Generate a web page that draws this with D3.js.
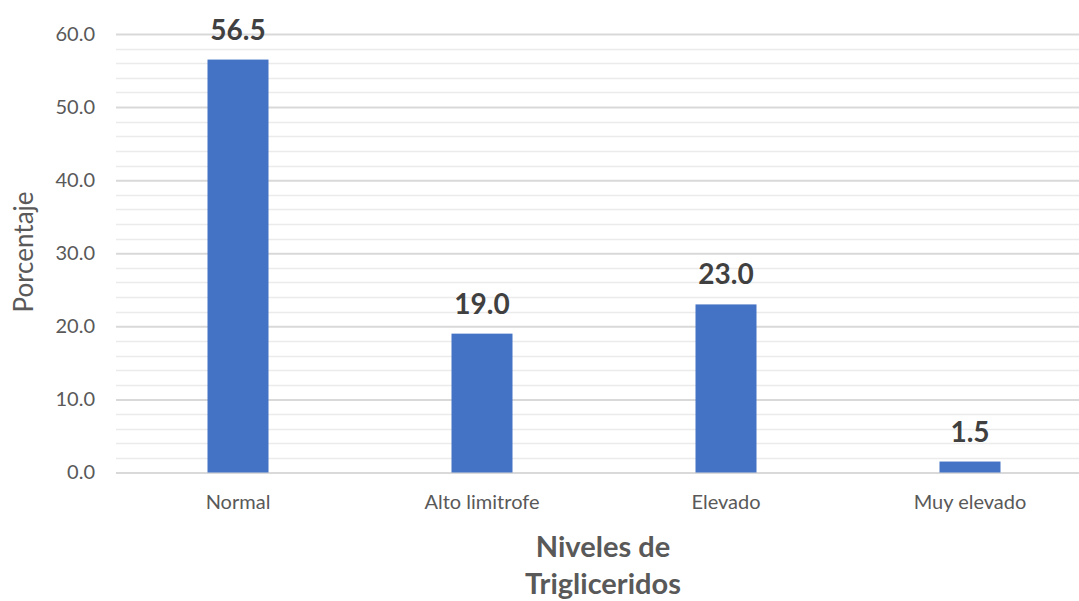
<!DOCTYPE html>
<html>
<head>
<meta charset="utf-8">
<script src="https://cdn.jsdelivr.net/npm/d3@7/dist/d3.min.js"></script>
<style>
  html, body { margin: 0; padding: 0; background: #fff; overflow: hidden; }
  svg { display: block; }
  text { font-family: Lato, "Open Sans", sans-serif; }
</style>
</head>
<body>
<svg id="chart" width="1079" height="601"></svg>
<script>
// Triglyceride level categories and their percentages
const categories = ["Normal", "Alto limitrofe", "Elevado", "Muy elevado"];
const values = [56.5, 19.0, 23.0, 1.5];
const majorTicks = [0, 10, 20, 30, 40, 50, 60];
const minorTicks = [2, 4, 6, 8, 12, 14, 16, 18, 22, 24, 26, 28, 32, 34, 36, 38, 42, 44, 46, 48, 52, 54, 56, 58];
const yTitle = "Porcentaje";
const xTitleLines = ["Niveles de", "Trigliceridos"];

const svg = d3.select("#chart");
const plotLeft = 116, plotRight = 1092, plotTop = 34, plotBottom = 472.5;

const x = d3.scaleBand().domain(categories).range([plotLeft, plotRight]).paddingInner(0.75).paddingOuter(0.375);
const y = d3.scaleLinear().domain([0, 60]).range([plotBottom, plotTop]);

// minor gridlines
svg.append("g").selectAll("line").data(minorTicks).join("line")
  .attr("x1", plotLeft).attr("x2", plotRight)
  .attr("y1", d => Math.round(y(d)) + 0.5).attr("y2", d => Math.round(y(d)) + 0.5)
  .attr("stroke", "#ebebeb").attr("stroke-width", 1.5);

// major gridlines and value axis
const yAxis = d3.axisLeft(y).tickValues(majorTicks).tickFormat(d3.format(".1f"))
  .tickSize(-(plotRight - plotLeft)).tickPadding(21);
const gy = svg.append("g").attr("transform", `translate(${plotLeft},0)`).call(yAxis);
gy.select(".domain").remove();
gy.selectAll(".tick line").attr("stroke", "#d9d9d9").attr("stroke-width", 2);
gy.selectAll(".tick text").attr("fill", "#595959").attr("font-size", 20)
  .attr("font-family", "Lato, sans-serif");

// bars
svg.append("g").selectAll("rect").data(values).join("rect")
  .attr("x", (d, i) => x(categories[i]))
  .attr("width", x.bandwidth())
  .attr("y", d => y(d))
  .attr("height", d => y(0) - y(d))
  .attr("fill", "#4472C4");

// value labels
svg.append("g").selectAll("text").data(values).join("text")
  .attr("x", (d, i) => x(categories[i]) + x.bandwidth() / 2)
  .attr("y", d => y(d) - 20)
  .attr("text-anchor", "middle")
  .attr("font-size", 28).attr("font-weight", "bold").attr("fill", "#404040")
  .text(d => d.toFixed(1));

// category axis labels
const xAxis = d3.axisBottom(x).tickSize(0).tickPadding(22);
const gx = svg.append("g").attr("transform", `translate(0,${plotBottom})`).call(xAxis);
gx.select(".domain").remove();
gx.selectAll(".tick text").attr("fill", "#595959").attr("font-size", 20)
  .attr("font-family", "Lato, sans-serif");

// axis titles
svg.append("text")
  .attr("transform", `translate(33,252) rotate(-90)`)
  .attr("text-anchor", "middle")
  .attr("font-size", 26).attr("fill", "#595959")
  .text(yTitle);

svg.append("g").selectAll("text").data(xTitleLines).join("text")
  .attr("x", 603).attr("y", (d, i) => 557 + i * 37)
  .attr("text-anchor", "middle")
  .attr("font-size", 29).attr("font-weight", "bold").attr("fill", "#595959")
  .text(d => d);
</script>
</body>
</html>
